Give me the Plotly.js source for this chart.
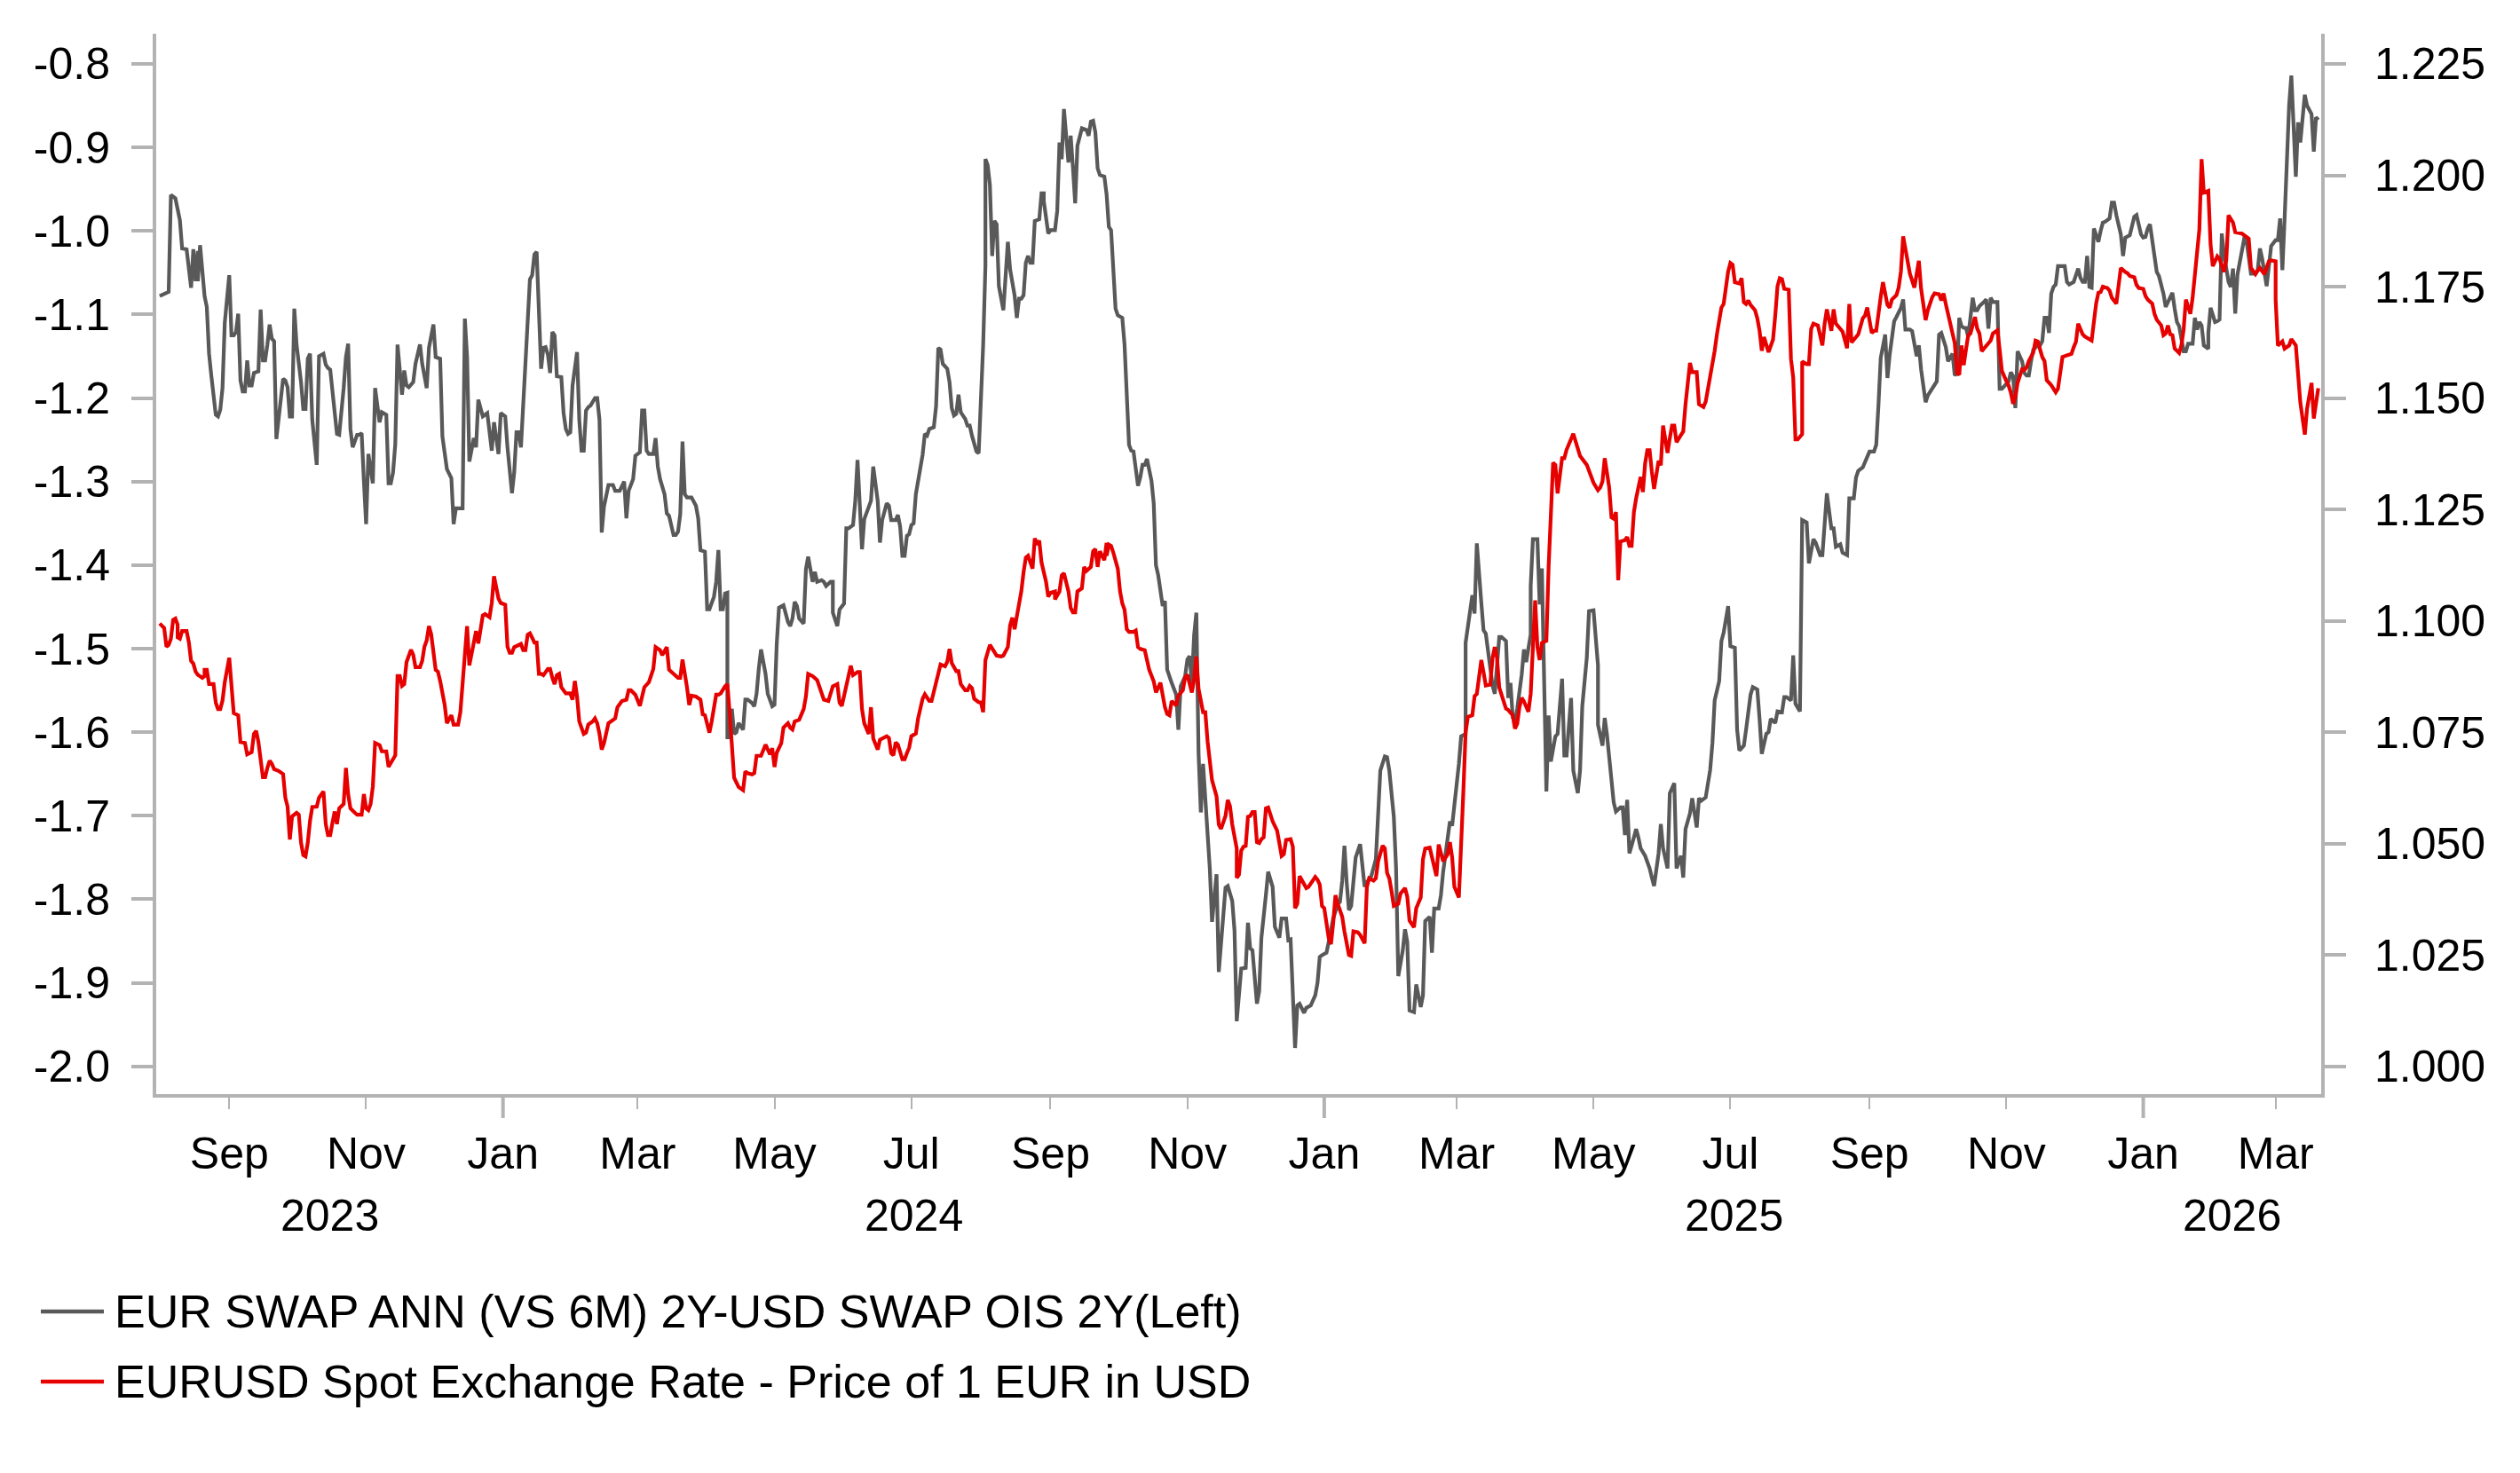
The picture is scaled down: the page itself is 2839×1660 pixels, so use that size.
<!DOCTYPE html>
<html>
<head>
<meta charset="utf-8">
<script src="https://cdn.plot.ly/plotly-3.0.1.min.js"></script>
<style>
html,body{margin:0;padding:0;background:#ffffff;}
#chart{width:2839px;height:1660px;}
</style>
</head>
<body>
<div id="chart"></div>
<script>
// ---------------- DATA ----------------
// Day numbers are days since 2023-08-01 (the first observation).
const BASE_DATE = '2023-08-01';

const seriesNames = [
  'EUR SWAP ANN (VS 6M) 2Y-USD SWAP OIS 2Y(Left)',
  'EURUSD Spot Exchange Rate - Price of 1 EUR in USD'
];

// EUR 2Y swap minus USD 2Y OIS spread, [day, value]
const swapSpread = [[0,-1.078],[4,-1.073],[5,-0.957],[7,-0.961],[9,-0.987],[10,-1.021],[12,-1.022],[14,-1.068],[15,-1.022],[16,-1.060],[17,-1.024],[17,-1.060],[18,-1.017],[20,-1.078],[21,-1.091],[22,-1.147],[23,-1.173],[25,-1.220],[26,-1.222],[27,-1.214],[28,-1.188],[29,-1.110],[31,-1.053],[32,-1.125],[33,-1.125],[34,-1.121],[35,-1.099],[36,-1.179],[37,-1.192],[38,-1.192],[39,-1.155],[40,-1.185],[41,-1.185],[42,-1.170],[44,-1.168],[45,-1.094],[46,-1.155],[47,-1.155],[48,-1.136],[49,-1.112],[50,-1.129],[51,-1.132],[52,-1.249],[53,-1.222],[54,-1.196],[55,-1.177],[56,-1.179],[57,-1.187],[58,-1.222],[59,-1.222],[60,-1.093],[61,-1.136],[63,-1.181],[64,-1.213],[65,-1.213],[66,-1.153],[67,-1.147],[68,-1.226],[70,-1.280],[71,-1.150],[73,-1.147],[74,-1.160],[75,-1.164],[76,-1.166],[79,-1.243],[80,-1.244],[82,-1.188],[83,-1.151],[84,-1.135],[85,-1.237],[86,-1.259],[88,-1.244],[89,-1.244],[90,-1.242],[91,-1.299],[92,-1.351],[93,-1.267],[95,-1.302],[96,-1.188],[98,-1.229],[99,-1.217],[101,-1.220],[102,-1.302],[103,-1.302],[104,-1.289],[105,-1.255],[106,-1.136],[108,-1.196],[109,-1.167],[110,-1.185],[111,-1.187],[113,-1.181],[114,-1.159],[116,-1.136],[117,-1.159],[119,-1.188],[120,-1.140],[122,-1.112],[123,-1.151],[125,-1.153],[126,-1.246],[127,-1.269],[128,-1.285],[130,-1.296],[131,-1.351],[132,-1.332],[135,-1.332],[136,-1.105],[137,-1.151],[138,-1.276],[140,-1.248],[141,-1.259],[142,-1.202],[144,-1.222],[146,-1.218],[148,-1.263],[149,-1.229],[151,-1.267],[152,-1.218],[154,-1.222],[155,-1.259],[157,-1.314],[158,-1.289],[159,-1.241],[160,-1.241],[161,-1.259],[162,-1.211],[163,-1.159],[165,-1.058],[166,-1.053],[167,-1.028],[168,-1.025],[169,-1.107],[170,-1.165],[171,-1.140],[172,-1.139],[173,-1.148],[174,-1.170],[175,-1.121],[176,-1.125],[177,-1.174],[179,-1.175],[180,-1.218],[181,-1.237],[182,-1.243],[183,-1.241],[184,-1.185],[186,-1.145],[187,-1.226],[188,-1.263],[189,-1.263],[190,-1.215],[191,-1.211],[192,-1.209],[194,-1.200],[195,-1.200],[196,-1.226],[197,-1.361],[198,-1.330],[199,-1.315],[200,-1.304],[202,-1.304],[203,-1.311],[205,-1.311],[206,-1.304],[207,-1.300],[208,-1.344],[209,-1.311],[210,-1.304],[211,-1.297],[212,-1.269],[214,-1.265],[215,-1.215],[216,-1.215],[217,-1.263],[218,-1.267],[220,-1.267],[221,-1.248],[222,-1.282],[223,-1.297],[225,-1.315],[226,-1.338],[227,-1.341],[228,-1.352],[229,-1.364],[230,-1.364],[231,-1.360],[232,-1.339],[233,-1.252],[234,-1.315],[235,-1.319],[237,-1.319],[239,-1.329],[240,-1.344],[241,-1.382],[243,-1.384],[244,-1.453],[245,-1.453],[247,-1.438],[248,-1.420],[249,-1.382],[250,-1.453],[251,-1.453],[252,-1.434],[253,-1.433],[253,-1.606],[254,-1.606],[255,-1.572],[256,-1.602],[257,-1.600],[258,-1.589],[260,-1.597],[261,-1.561],[262,-1.561],[264,-1.565],[265,-1.569],[266,-1.554],[267,-1.524],[268,-1.501],[270,-1.530],[271,-1.554],[273,-1.569],[274,-1.567],[275,-1.494],[276,-1.451],[278,-1.448],[280,-1.468],[281,-1.473],[282,-1.464],[283,-1.444],[284,-1.449],[285,-1.464],[287,-1.470],[288,-1.405],[289,-1.390],[291,-1.420],[292,-1.408],[293,-1.420],[295,-1.418],[296,-1.420],[297,-1.425],[299,-1.420],[300,-1.420],[300,-1.457],[302,-1.473],[303,-1.453],[305,-1.446],[306,-1.356],[307,-1.356],[309,-1.352],[310,-1.323],[311,-1.274],[313,-1.381],[314,-1.345],[316,-1.330],[317,-1.323],[318,-1.282],[320,-1.323],[321,-1.373],[322,-1.346],[324,-1.326],[325,-1.329],[326,-1.346],[328,-1.346],[329,-1.340],[330,-1.354],[331,-1.389],[332,-1.389],[333,-1.365],[334,-1.363],[335,-1.352],[336,-1.350],[337,-1.315],[338,-1.298],[339,-1.287],[340,-1.268],[341,-1.243],[342,-1.245],[343,-1.237],[345,-1.235],[346,-1.210],[347,-1.140],[348,-1.142],[349,-1.159],[351,-1.165],[352,-1.181],[353,-1.212],[354,-1.221],[355,-1.219],[356,-1.196],[357,-1.217],[359,-1.225],[360,-1.233],[361,-1.233],[362,-1.245],[364,-1.264],[365,-1.266],[366,-1.206],[367,-1.136],[368,-1.042],[368,-0.914],[369,-0.921],[370,-0.945],[371,-1.030],[372,-0.988],[373,-0.992],[374,-1.066],[376,-1.095],[377,-1.054],[378,-1.013],[379,-1.046],[381,-1.077],[382,-1.104],[383,-1.081],[384,-1.081],[385,-1.077],[386,-1.038],[387,-1.030],[388,-1.038],[389,-1.038],[390,-0.988],[392,-0.986],[393,-0.955],[394,-0.955],[394,-0.964],[395,-0.984],[396,-1.003],[397,-0.999],[399,-0.999],[400,-0.976],[401,-0.894],[402,-0.914],[403,-0.854],[405,-0.918],[406,-0.886],[407,-0.924],[408,-0.967],[409,-0.898],[410,-0.885],[411,-0.877],[413,-0.879],[414,-0.886],[415,-0.869],[416,-0.868],[417,-0.882],[418,-0.925],[419,-0.933],[421,-0.935],[422,-0.956],[423,-0.995],[424,-0.999],[426,-1.093],[427,-1.101],[429,-1.104],[430,-1.136],[431,-1.198],[432,-1.256],[433,-1.263],[434,-1.264],[436,-1.305],[437,-1.295],[438,-1.280],[439,-1.280],[440,-1.273],[442,-1.299],[443,-1.326],[444,-1.400],[445,-1.412],[446,-1.435],[447,-1.449],[448,-1.443],[449,-1.525],[451,-1.541],[453,-1.555],[454,-1.597],[455,-1.545],[457,-1.533],[458,-1.513],[459,-1.509],[460,-1.541],[461,-1.484],[462,-1.457],[463,-1.626],[464,-1.696],[465,-1.638],[467,-1.724],[468,-1.763],[469,-1.827],[471,-1.770],[472,-1.887],[473,-1.852],[475,-1.786],[476,-1.784],[478,-1.802],[479,-1.837],[480,-1.946],[482,-1.883],[484,-1.882],[485,-1.828],[486,-1.859],[487,-1.861],[489,-1.925],[490,-1.910],[491,-1.846],[493,-1.795],[494,-1.767],[496,-1.785],[497,-1.833],[499,-1.846],[500,-1.823],[502,-1.823],[503,-1.849],[504,-1.848],[505,-1.915],[506,-1.978],[507,-1.927],[508,-1.925],[510,-1.936],[511,-1.930],[513,-1.927],[515,-1.915],[516,-1.900],[517,-1.869],[518,-1.867],[520,-1.864],[521,-1.851],[523,-1.823],[525,-1.806],[526,-1.803],[527,-1.778],[528,-1.736],[529,-1.780],[530,-1.813],[531,-1.808],[532,-1.773],[533,-1.750],[535,-1.734],[536,-1.762],[537,-1.785],[538,-1.780],[539,-1.775],[540,-1.772],[542,-1.752],[543,-1.694],[544,-1.646],[546,-1.629],[547,-1.630],[548,-1.646],[550,-1.701],[551,-1.762],[552,-1.892],[554,-1.861],[555,-1.836],[556,-1.851],[557,-1.933],[559,-1.935],[560,-1.902],[562,-1.929],[563,-1.915],[564,-1.826],[566,-1.821],[567,-1.864],[568,-1.811],[570,-1.811],[571,-1.795],[572,-1.767],[574,-1.729],[575,-1.707],[576,-1.712],[578,-1.668],[579,-1.638],[580,-1.605],[582,-1.602],[582,-1.493],[584,-1.453],[585,-1.436],[586,-1.458],[587,-1.374],[589,-1.445],[590,-1.478],[591,-1.482],[593,-1.521],[594,-1.544],[595,-1.554],[596,-1.519],[597,-1.486],[598,-1.486],[600,-1.491],[601,-1.559],[602,-1.541],[603,-1.582],[604,-1.587],[605,-1.572],[607,-1.531],[608,-1.501],[609,-1.516],[611,-1.483],[611,-1.425],[612,-1.369],[614,-1.369],[615,-1.447],[616,-1.404],[618,-1.671],[619,-1.580],[620,-1.635],[622,-1.605],[623,-1.602],[625,-1.536],[626,-1.628],[627,-1.628],[629,-1.559],[630,-1.646],[632,-1.673],[633,-1.646],[634,-1.569],[636,-1.511],[637,-1.455],[639,-1.454],[641,-1.520],[641,-1.591],[643,-1.616],[644,-1.583],[645,-1.603],[647,-1.655],[648,-1.684],[649,-1.695],[651,-1.690],[652,-1.690],[653,-1.723],[654,-1.681],[655,-1.745],[657,-1.726],[658,-1.716],[659,-1.726],[660,-1.739],[662,-1.748],[663,-1.755],[664,-1.763],[665,-1.774],[666,-1.784],[668,-1.745],[669,-1.710],[670,-1.739],[672,-1.763],[673,-1.673],[675,-1.661],[676,-1.763],[678,-1.748],[679,-1.774],[680,-1.716],[682,-1.697],[683,-1.679],[685,-1.714],[686,-1.679],[687,-1.682],[689,-1.678],[691,-1.645],[692,-1.613],[693,-1.562],[695,-1.539],[696,-1.491],[697,-1.481],[699,-1.449],[700,-1.497],[702,-1.499],[703,-1.597],[704,-1.622],[706,-1.616],[707,-1.597],[709,-1.555],[710,-1.546],[712,-1.549],[713,-1.584],[714,-1.626],[716,-1.602],[717,-1.600],[718,-1.584],[720,-1.589],[721,-1.575],[723,-1.576],[724,-1.558],[725,-1.558],[727,-1.562],[728,-1.508],[729,-1.566],[731,-1.575],[732,-1.346],[734,-1.349],[735,-1.398],[737,-1.369],[738,-1.373],[740,-1.388],[741,-1.388],[742,-1.343],[743,-1.314],[745,-1.356],[746,-1.356],[747,-1.378],[749,-1.375],[750,-1.385],[752,-1.388],[753,-1.320],[755,-1.320],[756,-1.295],[757,-1.287],[759,-1.283],[761,-1.269],[762,-1.264],[764,-1.264],[765,-1.256],[766,-1.208],[767,-1.152],[769,-1.124],[770,-1.176],[771,-1.148],[773,-1.108],[774,-1.103],[776,-1.092],[777,-1.082],[778,-1.118],[780,-1.118],[781,-1.120],[783,-1.150],[784,-1.137],[785,-1.166],[787,-1.205],[788,-1.197],[790,-1.188],[792,-1.180],[793,-1.124],[794,-1.122],[796,-1.139],[797,-1.156],[799,-1.147],[800,-1.173],[801,-1.170],[802,-1.104],[803,-1.114],[804,-1.116],[805,-1.116],[806,-1.127],[808,-1.080],[809,-1.095],[810,-1.095],[811,-1.090],[813,-1.085],[814,-1.082],[815,-1.117],[816,-1.080],[817,-1.085],[819,-1.085],[820,-1.189],[821,-1.189],[823,-1.183],[824,-1.180],[825,-1.169],[826,-1.174],[827,-1.212],[828,-1.144],[830,-1.156],[831,-1.170],[832,-1.173],[833,-1.173],[834,-1.156],[835,-1.142],[837,-1.137],[838,-1.137],[839,-1.132],[840,-1.104],[841,-1.104],[842,-1.122],[843,-1.075],[844,-1.067],[845,-1.064],[846,-1.042],[848,-1.042],[849,-1.042],[850,-1.061],[851,-1.064],[853,-1.061],[854,-1.051],[855,-1.045],[856,-1.056],[857,-1.061],[858,-1.061],[859,-1.030],[860,-1.067],[861,-1.068],[862,-0.997],[864,-1.013],[865,-1.000],[866,-0.990],[867,-0.989],[869,-0.985],[870,-0.966],[871,-0.966],[872,-0.981],[874,-1.004],[875,-1.030],[876,-1.008],[878,-1.005],[879,-0.992],[880,-0.983],[881,-0.981],[883,-1.004],[884,-1.008],[885,-1.007],[886,-0.997],[887,-0.992],[889,-1.030],[890,-1.049],[891,-1.054],[893,-1.075],[894,-1.091],[895,-1.085],[897,-1.074],[898,-1.093],[899,-1.109],[900,-1.114],[901,-1.128],[902,-1.144],[903,-1.144],[904,-1.135],[906,-1.135],[907,-1.104],[908,-1.118],[909,-1.109],[910,-1.113],[911,-1.137],[913,-1.141],[913,-1.122],[914,-1.092],[916,-1.109],[917,-1.108],[918,-1.106],[919,-1.003],[920,-1.028],[922,-1.061],[923,-1.067],[924,-1.045],[925,-1.099],[926,-1.052],[928,-1.026],[929,-1.009],[930,-1.011],[931,-1.028],[932,-1.051],[934,-1.051],[935,-1.047],[936,-1.021],[937,-1.033],[939,-1.066],[940,-1.042],[941,-1.018],[943,-1.011],[944,-1.011],[945,-0.985],[946,-1.047],[947,-0.985],[949,-0.850],[950,-0.814],[952,-0.935],[953,-0.870],[954,-0.894],[956,-0.837],[957,-0.850],[959,-0.860],[960,-0.905],[961,-0.864],[962,-0.867]];

// EURUSD spot, [day, value]
const eurusdSpot = [[0,1.0994],[2,1.0984],[3,1.0942],[4,1.0946],[5,1.0960],[6,1.1002],[7,1.1005],[8,1.0991],[8,1.0963],[9,1.0960],[10,1.0977],[12,1.0977],[13,1.0952],[14,1.0910],[15,1.0904],[16,1.0886],[17,1.0879],[19,1.0872],[20,1.0876],[20,1.0890],[21,1.0890],[22,1.0858],[24,1.0858],[25,1.0816],[26,1.0802],[27,1.0802],[28,1.0821],[29,1.0862],[31,1.0917],[32,1.0865],[33,1.0793],[35,1.0788],[36,1.0728],[38,1.0726],[39,1.0700],[41,1.0705],[42,1.0746],[43,1.0753],[44,1.0728],[46,1.0649],[47,1.0649],[48,1.0670],[49,1.0686],[50,1.0679],[51,1.0667],[53,1.0663],[55,1.0656],[56,1.0603],[57,1.0583],[58,1.0509],[59,1.0561],[61,1.0569],[62,1.0565],[63,1.0502],[64,1.0474],[65,1.0471],[66,1.0502],[67,1.0551],[68,1.0582],[70,1.0583],[71,1.0603],[73,1.0617],[74,1.0544],[75,1.0519],[76,1.0519],[77,1.0547],[78,1.0572],[79,1.0544],[80,1.0579],[82,1.0589],[83,1.0670],[84,1.0611],[85,1.0579],[87,1.0569],[88,1.0565],[90,1.0565],[91,1.0611],[92,1.0579],[93,1.0575],[94,1.0589],[95,1.0628],[96,1.0726],[98,1.0721],[99,1.0707],[101,1.0707],[102,1.0672],[103,1.0681],[104,1.0691],[105,1.0698],[106,1.0876],[107,1.0876],[108,1.0854],[109,1.0858],[110,1.0907],[112,1.0935],[113,1.0924],[114,1.0896],[116,1.0896],[117,1.0910],[118,1.0942],[119,1.0956],[120,1.0988],[121,1.0970],[123,1.0890],[124,1.0886],[125,1.0865],[127,1.0812],[128,1.0770],[130,1.0788],[131,1.0767],[133,1.0767],[134,1.0795],[135,1.0865],[137,1.0988],[138,1.0900],[139,1.0924],[141,1.0977],[142,1.0949],[143,1.0977],[144,1.1012],[145,1.1015],[147,1.1008],[148,1.1040],[149,1.1100],[151,1.1050],[152,1.1040],[154,1.1036],[155,1.0942],[156,1.0928],[157,1.0928],[158,1.0941],[160,1.0946],[161,1.0948],[162,1.0934],[163,1.0934],[164,1.0969],[165,1.0972],[166,1.0962],[167,1.0951],[168,1.0951],[169,1.0881],[170,1.0881],[171,1.0878],[173,1.0892],[174,1.0892],[175,1.0872],[176,1.0858],[177,1.0878],[178,1.0881],[179,1.0851],[180,1.0844],[181,1.0837],[183,1.0837],[184,1.0823],[185,1.0865],[186,1.0830],[187,1.0774],[189,1.0746],[190,1.0749],[191,1.0767],[193,1.0774],[194,1.0781],[195,1.0770],[196,1.0746],[197,1.0711],[198,1.0725],[200,1.0770],[201,1.0774],[203,1.0781],[204,1.0806],[206,1.0820],[208,1.0823],[209,1.0844],[210,1.0844],[212,1.0834],[214,1.0809],[215,1.0830],[216,1.0851],[218,1.0862],[220,1.0892],[221,1.0941],[223,1.0934],[224,1.0923],[225,1.0932],[226,1.0941],[227,1.0890],[229,1.0881],[231,1.0872],[232,1.0872],[233,1.0913],[235,1.0851],[236,1.0811],[237,1.0832],[239,1.0830],[241,1.0823],[242,1.0790],[243,1.0788],[245,1.0749],[246,1.0774],[248,1.0834],[249,1.0834],[250,1.0837],[252,1.0853],[253,1.0858],[254,1.0795],[255,1.0732],[256,1.0648],[258,1.0627],[260,1.0620],[261,1.0662],[262,1.0658],[264,1.0655],[265,1.0658],[266,1.0697],[268,1.0697],[270,1.0722],[271,1.0708],[272,1.0700],[273,1.0714],[274,1.0672],[275,1.0704],[277,1.0725],[278,1.0760],[280,1.0770],[281,1.0760],[282,1.0756],[283,1.0774],[285,1.0778],[287,1.0802],[288,1.0830],[289,1.0881],[291,1.0876],[293,1.0867],[294,1.0853],[295,1.0839],[296,1.0823],[298,1.0820],[299,1.0839],[300,1.0853],[302,1.0858],[303,1.0816],[304,1.0809],[305,1.0830],[306,1.0851],[308,1.0899],[309,1.0878],[311,1.0885],[312,1.0885],[313,1.0802],[314,1.0770],[316,1.0746],[317,1.0806],[318,1.0736],[320,1.0711],[321,1.0733],[324,1.0741],[325,1.0737],[326,1.0703],[327,1.0698],[328,1.0727],[329,1.0722],[331,1.0689],[332,1.0689],[333,1.0703],[334,1.0715],[335,1.0741],[337,1.0747],[338,1.0781],[340,1.0825],[341,1.0835],[343,1.0820],[344,1.0820],[345,1.0839],[347,1.0879],[348,1.0902],[350,1.0898],[351,1.0908],[352,1.0937],[353,1.0905],[355,1.0887],[356,1.0887],[357,1.0858],[359,1.0844],[360,1.0844],[361,1.0854],[362,1.0849],[363,1.0825],[365,1.0817],[366,1.0817],[367,1.0795],[368,1.0912],[370,1.0946],[372,1.0931],[373,1.0922],[375,1.0920],[376,1.0922],[378,1.0941],[379,1.0990],[380,1.1007],[381,1.0981],[382,1.1010],[384,1.1066],[385,1.1109],[386,1.1142],[387,1.1146],[389,1.1117],[390,1.1185],[391,1.1171],[392,1.1180],[393,1.1131],[395,1.1088],[396,1.1054],[397,1.1063],[399,1.1066],[399,1.1048],[401,1.1066],[402,1.1102],[403,1.1107],[405,1.1066],[406,1.1029],[407,1.1019],[408,1.1019],[409,1.1066],[411,1.1073],[412,1.1121],[413,1.1112],[415,1.1121],[416,1.1156],[417,1.1161],[418,1.1121],[419,1.1156],[421,1.1136],[422,1.1175],[422,1.1146],[423,1.1171],[424,1.1168],[425,1.1153],[427,1.1117],[428,1.1066],[429,1.1039],[430,1.1025],[431,1.0981],[432,1.0975],[434,1.0975],[435,1.0978],[436,1.0941],[437,1.0937],[439,1.0934],[440,1.0912],[441,1.0890],[443,1.0864],[444,1.0839],[446,1.0861],[447,1.0829],[448,1.0806],[449,1.0791],[450,1.0788],[451,1.0820],[453,1.0810],[454,1.0832],[456,1.0844],[457,1.0873],[458,1.0879],[460,1.0839],[461,1.0868],[462,1.0920],[463,1.0847],[465,1.0795],[466,1.0795],[467,1.0730],[468,1.0686],[469,1.0642],[471,1.0606],[472,1.0543],[473,1.0533],[475,1.0562],[476,1.0598],[477,1.0584],[478,1.0543],[480,1.0489],[480,1.0423],[481,1.0430],[482,1.0484],[483,1.0493],[484,1.0495],[485,1.0560],[486,1.0562],[487,1.0571],[488,1.0571],[489,1.0503],[490,1.0501],[491,1.0510],[492,1.0514],[493,1.0579],[494,1.0581],[495,1.0562],[496,1.0550],[498,1.0529],[499,1.0498],[500,1.0472],[501,1.0476],[502,1.0508],[504,1.0510],[505,1.0493],[506,1.0355],[507,1.0365],[508,1.0427],[510,1.0408],[511,1.0400],[512,1.0403],[514,1.0419],[515,1.0425],[516,1.0419],[517,1.0408],[518,1.0360],[519,1.0355],[521,1.0288],[522,1.0274],[523,1.0322],[524,1.0384],[525,1.0365],[527,1.0336],[528,1.0303],[530,1.0250],[531,1.0248],[532,1.0303],[534,1.0301],[535,1.0295],[537,1.0276],[538,1.0403],[539,1.0422],[541,1.0417],[542,1.0422],[543,1.0460],[545,1.0495],[546,1.0489],[547,1.0434],[548,1.0422],[549,1.0393],[550,1.0360],[552,1.0365],[553,1.0388],[555,1.0400],[556,1.0381],[557,1.0327],[559,1.0312],[560,1.0355],[562,1.0379],[563,1.0465],[564,1.0489],[566,1.0491],[567,1.0469],[568,1.0441],[569,1.0427],[570,1.0498],[571,1.0479],[572,1.0460],[574,1.0476],[575,1.0503],[576,1.0469],[577,1.0403],[579,1.0379],[580,1.0479],[581,1.0617],[582,1.0750],[583,1.0784],[585,1.0788],[586,1.0831],[587,1.0836],[589,1.0912],[590,1.0884],[591,1.0855],[593,1.0857],[594,1.0917],[595,1.0941],[596,1.0917],[597,1.0850],[599,1.0817],[600,1.0803],[601,1.0800],[603,1.0788],[604,1.0758],[605,1.0769],[606,1.0806],[607,1.0827],[608,1.0819],[610,1.0796],[611,1.0836],[612,1.0931],[613,1.1046],[614,1.0941],[615,1.0912],[616,1.0950],[618,1.0955],[619,1.1122],[620,1.1265],[621,1.1355],[622,1.1350],[623,1.1286],[625,1.1365],[626,1.1365],[627,1.1384],[628,1.1398],[630,1.1420],[633,1.1370],[636,1.1350],[639,1.1310],[641,1.1293],[642,1.1299],[643,1.1313],[644,1.1365],[646,1.1299],[647,1.1232],[648,1.1229],[649,1.1244],[650,1.1091],[651,1.1178],[653,1.1181],[654,1.1188],[655,1.1168],[656,1.1168],[657,1.1244],[658,1.1275],[659,1.1301],[660,1.1323],[661,1.1289],[662,1.1353],[663,1.1383],[664,1.1383],[665,1.1335],[666,1.1296],[668,1.1359],[669,1.1349],[670,1.1438],[672,1.1377],[673,1.1410],[674,1.1438],[675,1.1438],[676,1.1401],[678,1.1417],[679,1.1425],[680,1.1486],[681,1.1528],[682,1.1579],[683,1.1558],[685,1.1558],[686,1.1486],[688,1.1480],[689,1.1492],[690,1.1518],[692,1.1576],[693,1.1606],[694,1.1643],[695,1.1679],[696,1.1703],[697,1.1711],[699,1.1784],[700,1.1803],[701,1.1799],[702,1.1760],[704,1.1757],[705,1.1769],[706,1.1715],[707,1.1711],[708,1.1719],[709,1.1709],[711,1.1697],[712,1.1679],[713,1.1651],[714,1.1606],[715,1.1637],[717,1.1603],[719,1.1631],[720,1.1685],[721,1.1751],[722,1.1769],[723,1.1767],[724,1.1745],[726,1.1743],[727,1.1588],[728,1.1546],[729,1.1407],[730,1.1407],[732,1.1419],[732,1.1582],[734,1.1576],[735,1.1576],[736,1.1655],[737,1.1667],[739,1.1663],[740,1.1643],[741,1.1618],[742,1.1667],[743,1.1699],[745,1.1651],[746,1.1699],[747,1.1667],[749,1.1655],[750,1.1649],[752,1.1612],[753,1.1711],[754,1.1625],[756,1.1639],[757,1.1643],[759,1.1679],[760,1.1685],[761,1.1703],[763,1.1646],[764,1.1651],[765,1.1651],[767,1.1727],[768,1.1760],[770,1.1709],[771,1.1703],[772,1.1721],[774,1.1731],[775,1.1748],[776,1.1784],[777,1.1863],[779,1.1811],[780,1.1779],[782,1.1748],[783,1.1784],[784,1.1808],[785,1.1745],[787,1.1675],[788,1.1697],[790,1.1727],[791,1.1735],[793,1.1733],[794,1.1719],[795,1.1735],[796,1.1711],[798,1.1667],[799,1.1654],[800,1.1623],[801,1.1556],[802,1.1552],[803,1.1618],[804,1.1574],[805,1.1609],[806,1.1641],[807,1.1645],[809,1.1682],[810,1.1656],[811,1.1645],[812,1.1605],[813,1.1611],[815,1.1623],[816,1.1629],[817,1.1645],[819,1.1652],[820,1.1609],[821,1.1561],[823,1.1538],[824,1.1528],[825,1.1512],[826,1.1487],[827,1.1503],[828,1.1534],[830,1.1565],[831,1.1563],[832,1.1569],[833,1.1583],[835,1.1602],[836,1.1629],[837,1.1627],[839,1.1592],[840,1.1583],[841,1.1540],[843,1.1529],[845,1.1513],[846,1.1521],[847,1.1565],[848,1.1592],[850,1.1596],[852,1.1599],[853,1.1614],[854,1.1626],[855,1.1667],[857,1.1643],[858,1.1638],[860,1.1632],[861,1.1629],[863,1.1712],[864,1.1736],[865,1.1738],[866,1.1750],[868,1.1747],[869,1.1741],[870,1.1725],[872,1.1712],[873,1.1752],[874,1.1792],[876,1.1783],[877,1.1780],[878,1.1774],[880,1.1771],[881,1.1754],[882,1.1747],[884,1.1745],[885,1.1729],[886,1.1721],[888,1.1712],[889,1.1689],[890,1.1676],[892,1.1663],[893,1.1641],[894,1.1645],[895,1.1663],[896,1.1643],[897,1.1641],[898,1.1611],[900,1.1601],[901,1.1618],[902,1.1654],[903,1.1721],[905,1.1689],[906,1.1725],[907,1.1778],[908,1.1841],[909,1.1878],[910,1.2036],[911,1.1961],[913,1.1965],[914,1.1845],[915,1.1796],[917,1.1818],[918,1.1812],[920,1.1783],[921,1.1809],[922,1.1910],[924,1.1894],[925,1.1872],[928,1.1869],[930,1.1860],[931,1.1858],[932,1.1792],[934,1.1778],[935,1.1786],[936,1.1792],[938,1.1778],[939,1.1796],[940,1.1807],[941,1.1809],[943,1.1807],[943,1.1721],[944,1.1618],[946,1.1627],[947,1.1611],[949,1.1618],[950,1.1632],[952,1.1618],[953,1.1565],[954,1.1490],[956,1.1418],[957,1.1476],[959,1.1534],[960,1.1454],[962,1.1522]];

// Axis ticks and labels
const leftTickValues  = [-2.0,-1.9,-1.8,-1.7,-1.6,-1.5,-1.4,-1.3,-1.2,-1.1,-1.0,-0.9,-0.8];
const rightTickValues = [1.000,1.025,1.050,1.075,1.100,1.125,1.150,1.175,1.200,1.225];
const monthTickDates  = ['2023-09-01','2023-11-01','2024-01-01','2024-03-01','2024-05-01','2024-07-01','2024-09-01','2024-11-01','2025-01-01','2025-03-01','2025-05-01','2025-07-01','2025-09-01','2025-11-01','2026-01-01','2026-03-01'];
const monthTickLabels = ['Sep','Nov','Jan','Mar','May','Jul','Sep','Nov','Jan','Mar','May','Jul','Sep','Nov','Jan','Mar'];
const yearTickDates   = ['2024-01-01','2025-01-01','2026-01-01'];
const yearLabels      = ['2023','2024','2025','2026'];

// ---------------- BUILD ----------------
const DAY_MS = 86400000;
const baseMs = Date.parse(BASE_DATE + 'T00:00:00Z');
function dayToDate(d){ return new Date(baseMs + d*DAY_MS).toISOString().slice(0,10); }

const X_RANGE = ['2023-07-30 11:00', '2026-03-21 07:00'];
const LEFT_RANGE  = [-2.0332, -0.7639];
const RIGHT_RANGE = [0.99377, 1.23177];

const FIG_W = 2839, FIG_H = 1660;
const M = {l:176, r:224, t:38, b:427};
const PW = FIG_W - M.l - M.r, PH = FIG_H - M.t - M.b;
const px2x = px => (px - M.l) / PW;
const px2y = py => (FIG_H - M.b - py) / PH;

const FONT = 'Liberation Sans, Arial, Helvetica, sans-serif';
const AXIS_GREY = '#b3b3b3';
const GREY_LINE = '#595959';
const RED_LINE = '#e60000';

const traces = [
  {
    type:'scatter', mode:'lines', name: seriesNames[0],
    x: swapSpread.map(p => dayToDate(p[0])), y: swapSpread.map(p => p[1]),
    line:{color:GREY_LINE, width:4.2}, xaxis:'x', yaxis:'y', showlegend:false
  },
  {
    type:'scatter', mode:'lines', name: seriesNames[1],
    x: eurusdSpot.map(p => dayToDate(p[0])), y: eurusdSpot.map(p => p[1]),
    line:{color:RED_LINE, width:4.2}, xaxis:'x', yaxis:'y2', showlegend:false
  }
];

// Year label centres: middle of the visible part of each year
const rStart = Date.parse(X_RANGE[0].replace(' ','T')+':00Z');
const rEnd   = Date.parse(X_RANGE[1].replace(' ','T')+':00Z');
const annotations = yearLabels.map(y => {
  const a = Math.max(rStart, Date.parse(y + '-01-01T00:00:00Z'));
  const b = Math.min(rEnd, Date.parse((+y+1) + '-01-01T00:00:00Z'));
  return {
    x: new Date((a+b)/2).toISOString(), xref:'x', y: px2y(1370), yref:'paper',
    text: y, showarrow:false, xanchor:'center', yanchor:'middle',
    font:{family:FONT, size:50, color:'#000000'}
  };
});

// Legend (drawn manually for a long line sample)
const legendRows = [
  {name: seriesNames[0], color: GREY_LINE, py: 1478},
  {name: seriesNames[1], color: RED_LINE,  py: 1557}
];
const shapes = [];
legendRows.forEach(r => {
  shapes.push({type:'line', xref:'paper', yref:'paper', x0:px2x(46), x1:px2x(117), y0:px2y(r.py), y1:px2y(r.py), line:{color:r.color, width:4.5}});
  annotations.push({x:px2x(127), xref:'paper', y:px2y(r.py), yref:'paper', text:r.name, showarrow:false, xanchor:'left', yanchor:'middle', font:{family:FONT, size:52, color:'#000000'}});
});
// Longer ticks at each new year
yearTickDates.forEach(d => {
  shapes.push({type:'line', xref:'x', yref:'paper', x0:d, x1:d, y0:px2y(1235), y1:px2y(1260), line:{color:AXIS_GREY, width:4}});
});

const layout = {
  width: FIG_W, height: FIG_H,
  margin: M,
  paper_bgcolor:'#ffffff', plot_bgcolor:'#ffffff',
  showlegend:false,
  font:{family:FONT, size:50, color:'#000000'},
  xaxis:{
    type:'date', range:X_RANGE, showgrid:false, zeroline:false,
    showline:true, linecolor:AXIS_GREY, linewidth:4,
    ticks:'outside', ticklen:13, tickwidth:2, tickcolor:AXIS_GREY,
    tickmode:'array', tickvals:monthTickDates, ticktext:monthTickLabels,
    tickfont:{family:FONT, size:50, color:'#000000'}, ticklabelstandoff:7,
    automargin:false, fixedrange:true
  },
  yaxis:{
    range:LEFT_RANGE, showgrid:false, zeroline:false,
    showline:true, linecolor:AXIS_GREY, linewidth:4,
    ticks:'outside', ticklen:24, tickwidth:4, tickcolor:AXIS_GREY,
    tickmode:'array', tickvals:leftTickValues, ticktext:leftTickValues.map(v => v.toFixed(1)),
    tickfont:{family:FONT, size:50, color:'#000000'}, ticklabelstandoff:14,
    automargin:false, fixedrange:true
  },
  yaxis2:{
    overlaying:'y', side:'right', anchor:'x',
    range:RIGHT_RANGE, showgrid:false, zeroline:false,
    showline:true, linecolor:AXIS_GREY, linewidth:4,
    ticks:'outside', ticklen:24, tickwidth:4, tickcolor:AXIS_GREY,
    tickmode:'array', tickvals:rightTickValues, ticktext:rightTickValues.map(v => v.toFixed(3)),
    tickfont:{family:FONT, size:50, color:'#000000'}, ticklabelstandoff:22,
    automargin:false, fixedrange:true
  },
  annotations: annotations,
  shapes: shapes
};

Plotly.newPlot('chart', traces, layout, {staticPlot:true, displayModeBar:false});
</script>
</body>
</html>
